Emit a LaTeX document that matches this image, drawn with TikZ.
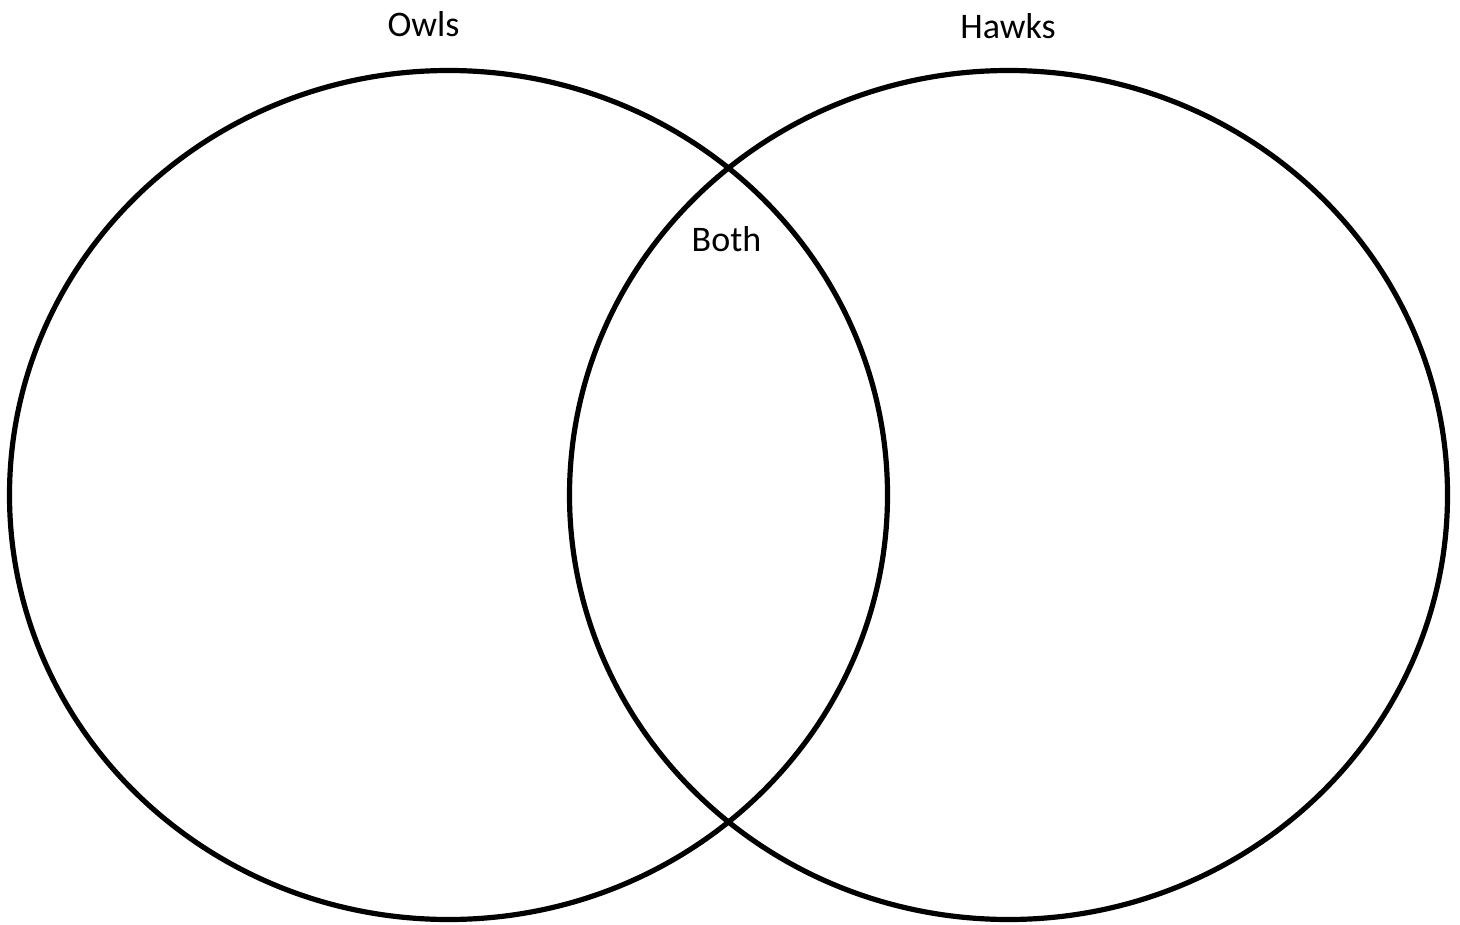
\documentclass[tikz,border=0pt]{standalone}
\usepackage{fontspec}
\setmainfont{Carlito}
\usetikzlibrary{shapes.geometric}

\begin{document}
\begin{tikzpicture}[x=0.5pt, y=-0.5pt,
  setbox/.style={ellipse, draw=black, line width=2.6pt, minimum width=439pt, minimum height=424.5pt, inner sep=0pt},
  setlabel/.style={anchor=base, inner sep=0pt, font=\fontsize{18}{22}\selectfont}]
  \useasboundingbox (0,0) rectangle (1460,925);
  \node[setbox] (owls) at (448.5,495) {};
  \node[setbox] (hawks) at (1008.5,495) {};
  \node[setlabel] (owlsname) at (423.5,37) {Owls};
  \node[setlabel] (hawksname) at (1008,39) {Hawks};
  \node[setlabel] (bothname) at (726.5,251) {Both};
\end{tikzpicture}
\end{document}
